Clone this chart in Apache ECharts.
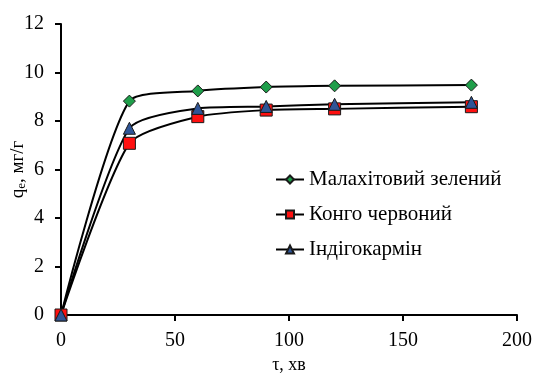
<!DOCTYPE html>
<html><head><meta charset="utf-8">
<script src="https://cdn.jsdelivr.net/npm/echarts@6/dist/echarts.min.js"></script>
<style>html,body{margin:0;padding:0;background:#fff}#c{width:534px;height:374px}</style>
</head><body><div id="c"></div>
<script>
var times = [0, 30, 60, 90, 120, 180];
var malachite = [0, 8.82, 9.24, 9.4, 9.45, 9.48];
var congo = [0, 7.08, 8.18, 8.45, 8.5, 8.59];
var indigo = [0, 7.7, 8.52, 8.6, 8.69, 8.77];
var names = ['Малахітовий зелений', 'Конго червоний', 'Індігокармін'];
var xTicks = [0, 50, 100, 150, 200];
var yTicks = [0, 2, 4, 6, 8, 10, 12];

function pairs(v){ return times.map(function(t,i){return [t, v[i]];}); }
var font = 'Liberation Serif';
function ser(name, data, symbol, color, size){
  return {
    name: name, type: 'line', smooth: 0.22, data: pairs(data),
    symbol: symbol, symbolSize: size,
    lineStyle: {color: '#000', width: 2},
    itemStyle: {color: color, borderColor: '#1a1a1a', borderWidth: 1},
    emphasis: {disabled: true}
  };
}
var chart = echarts.init(document.getElementById('c'));
chart.setOption({
  animation: false,
  backgroundColor: '#fff',
  grid: {left: 61, right: 17, top: 24, bottom: 59, containLabel: false, outerBoundsMode: 'none'},
  legend: {
    orient: 'vertical', left: 270, top: 164, itemGap: 14,
    itemWidth: 28, itemHeight: 10,
    textStyle: {fontFamily: font, fontSize: 21, color: '#000'},
    data: names
  },
  xAxis: {
    type: 'value', min: xTicks[0], max: xTicks[xTicks.length-1], interval: 50,
    name: 'τ, хв', nameLocation: 'middle', nameGap: 40,
    nameTextStyle: {fontFamily: font, fontSize: 18, color: '#000'},
    axisLine: {lineStyle: {color: '#000', width: 2}},
    axisTick: {show: true, length: 6, lineStyle: {color: '#000', width: 2}},
    axisLabel: {fontFamily: font, fontSize: 20, color: '#000', margin: 16},
    splitLine: {show: false}
  },
  yAxis: {
    type: 'value', min: yTicks[0], max: yTicks[yTicks.length-1], interval: 2,
    name: '{q|q}{s|е}{q|, мг/г}', nameLocation: 'middle', nameGap: 33, nameRotate: 90,
    nameMoveOverlap: false,
    nameTextStyle: {rich: {
      q: {fontFamily: font, fontSize: 19, color: '#000'},
      s: {fontFamily: font, fontSize: 13, color: '#000', verticalAlign: 'bottom', padding: [7,0,0,0]}
    }},
    axisLine: {show: true, lineStyle: {color: '#000', width: 2}},
    axisTick: {show: true, length: 6, lineStyle: {color: '#000', width: 2}},
    axisLabel: {fontFamily: font, fontSize: 20, color: '#000', margin: 17},
    splitLine: {show: false}
  },
  series: [
    ser(names[0], malachite, 'diamond', '#1f9e4a', 12),
    ser(names[1], congo, 'rect', '#ff1010', 12),
    ser(names[2], indigo, 'triangle', '#2f5597', 12)
  ]
});
</script></body></html>
